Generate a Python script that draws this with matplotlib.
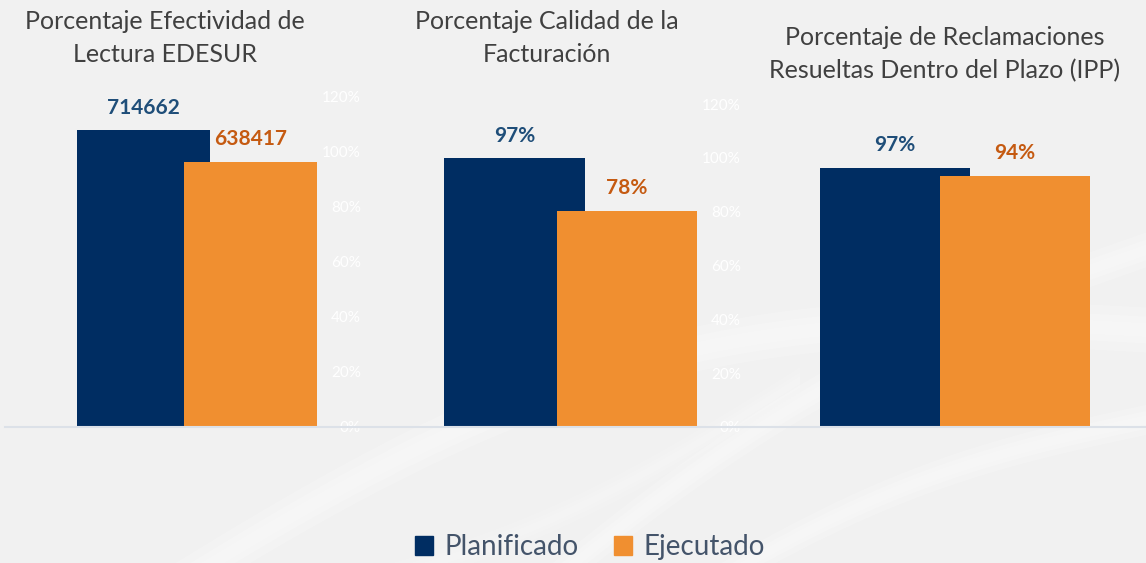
import matplotlib
matplotlib.use("Agg")
import numpy as np
import matplotlib.pyplot as plt
from matplotlib.lines import Line2D
from matplotlib.patches import Rectangle, Polygon

plt.rcParams['font.family'] = ['Lato', 'DejaVu Sans']

# data
titles = ['Porcentaje Efectividad de\nLectura EDESUR',
          'Porcentaje Calidad de la\nFacturación',
          'Porcentaje de Reclamaciones\nResueltas Dentro del Plazo (IPP)']
planificado = [714662, 97, 97]
ejecutado = [638417, 78, 94]
label_fmt = ['{:.0f}', '{:.0f}%', '{:.0f}%']
series_names = ['Planificado', 'Ejecutado']
pct_ticks = [0, 0.2, 0.4, 0.6, 0.8, 1.0, 1.2]
pct_labels = ['0%', '20%', '40%', '60%', '80%', '100%', '120%']

navy = '#002D62'
orange = '#F08F30'
navy_txt = '#1F4E79'
orange_txt = '#C55A11'
title_col = '#404040'
bg = '#F1F1F1'

W, H = 1146, 563
fig = plt.figure(figsize=(W / 100, H / 100), dpi=100)
fig.patch.set_facecolor(bg)

# faint, broad white swooshes in the background
bgax = fig.add_axes([0, 0, 1, 1], zorder=-10)
bgax.set_xlim(0, W)
bgax.set_ylim(H, 0)
bgax.axis('off')
t = np.linspace(0, 1, 80)
for (x0, y0, x1, y1, bend, th, a) in [(120, 620, 1146, 330, 110, 45, 0.30),
                                      (480, 640, 1146, 250, 50, 35, 0.28),
                                      (650, 620, 1146, 420, 30, 30, 0.30),
                                      (300, 600, 800, 380, -30, 25, 0.22)]:
    xs = x0 + (x1 - x0) * t
    ys = y0 + (y1 - y0) * t - bend * np.sin(np.pi * t)
    for k, frac in enumerate([1.0, 0.6, 0.3]):
        w = th * frac
        pts = np.column_stack([np.r_[xs, xs[::-1]], np.r_[ys - w / 2, ys[::-1] + w / 2]])
        bgax.add_patch(Polygon(pts, closed=True, color='white', alpha=a * 0.6, lw=0))

# pixel layout per panel: (navy center, px per unit, axes top px, primary ymax, show % axis, title center x, title center y)
layout = [
    (143.5, 133.5, 96, 796500, True, 165, 38),
    (514.5, 140.5, 104, 116.5, True, 547, 38),
    (895.0, 150.0, 110, 118.7, False, 945, 54),
]
base_px = 427
offset = 0.8
width = 1.0

for i, (cx, unit, top_px, ymax, show_pct, tx, ty) in enumerate(layout):
    left_px = cx - 0.5 * unit - 2
    right_px = cx + (offset + 0.5) * unit + 2
    ax = fig.add_axes([left_px / W, 1 - base_px / H,
                       (right_px - left_px) / W, (base_px - top_px) / H])
    ax.set_facecolor('none')
    ax.set_xlim((left_px - cx) / unit, (right_px - cx) / unit)
    ax.set_ylim(0, ymax)
    ax.bar(0, planificado[i], width=width, color=navy, align='center', zorder=2)
    ax.bar(offset, ejecutado[i], width=width, color=orange, align='center', zorder=3)
    ax.annotate(label_fmt[i].format(planificado[i]), (0, planificado[i]),
                xytext=(0, 9), textcoords='offset points', ha='center', va='bottom',
                fontsize=15, fontweight='bold', color=navy_txt)
    ax.annotate(label_fmt[i].format(ejecutado[i]), (offset, ejecutado[i]),
                xytext=(0, 9), textcoords='offset points', ha='center', va='bottom',
                fontsize=15, fontweight='bold', color=orange_txt, zorder=4)
    for s in ax.spines.values():
        s.set_visible(False)
    ax.set_xticks([])
    ax.set_yticks([])

    if show_pct:
        ax2 = ax.twinx()
        ax2.set_ylim(0, 1.2)
        ax2.set_yticks(pct_ticks)
        ax2.set_yticklabels(pct_labels)
        ax2.tick_params(axis='y', length=0, pad=30, labelsize=11, labelcolor='white')
        for lbl in ax2.get_yticklabels():
            lbl.set_horizontalalignment('right')
        for s in ax2.spines.values():
            s.set_visible(False)

    fig.text(tx / W, 1 - ty / H, titles[i], ha='center', va='center',
             fontsize=18, color=title_col, linespacing=1.5)

# baseline
fig.add_artist(Line2D([5 / W, 1], [1 - base_px / H] * 2, color='#DCE1E8', lw=1.5, zorder=1))

# legend
handles = [Rectangle((0, 0), 1, 1, color=navy), Rectangle((0, 0), 1, 1, color=orange)]
leg = fig.legend(handles, series_names, loc='center', bbox_to_anchor=(590 / W, 1 - 547 / H),
                 ncol=2, frameon=False, fontsize=20, handlelength=0.65, handleheight=0.65,
                 handletextpad=0.4, columnspacing=1.3)
for t in leg.get_texts():
    t.set_color('#44546A')

fig.savefig('out.png', dpi=100, facecolor=bg)
